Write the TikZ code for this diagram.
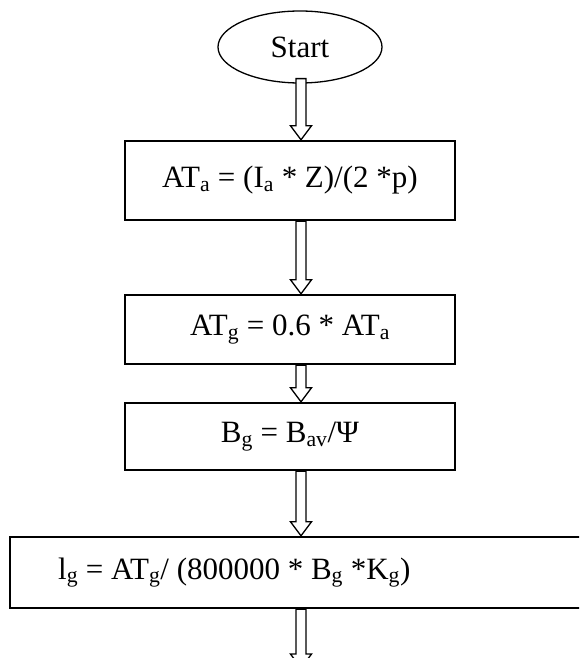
\documentclass[tikz,border=0pt]{standalone}
\usepackage{fontspec}
\setmainfont{Liberation Serif}
\usetikzlibrary{shapes.geometric, calc}

\tikzset{
  box/.style={draw, line width=2.4pt, minimum width=330pt, fill=white, inner sep=0pt},
  startnode/.style={ellipse, draw, line width=1.3pt, minimum width=164pt, minimum height=72pt},
  blockarrow/.style={draw, fill=white, line width=1.3pt, to path={
    let \p1=(\tikztostart), \p2=(\tikztotarget) in
    (\x1-5pt,\y1) -- (\x1-5pt,\y2+14pt) -- (\x1-10.5pt,\y2+14pt) -- (\x1,\y2)
    -- (\x1+10.5pt,\y2+14pt) -- (\x1+5pt,\y2+14pt) -- (\x1+5pt,\y1) -- cycle}},
}

\begin{document}
\begin{tikzpicture}[x=1pt, y=-1pt, font=\fontsize{31}{37}\selectfont]
    \useasboundingbox (0,0) rectangle (579,658);
    \clip (0,0) rectangle (579,658);

    % Start and steps
    \node[startnode] (start) at (300,47) {Start};
    \node[box, minimum height=79pt] (ata) at (290,180.5) {AT\textsubscript{a} = (I\textsubscript{a} * Z)/(2 *p)};
    \node[box, minimum height=69pt] (atg) at (290,329.5) {AT\textsubscript{g} = 0.6 * AT\textsubscript{a}};
    \node[box, minimum height=67pt] (bg) at (290,436.5) {B\textsubscript{g} = B\textsubscript{av}/Ψ};
    \node[box, anchor=west, minimum height=71pt, text width=504pt, inner xsep=48pt, align=flush left] (lg) at (9,572.5)
        {l\textsubscript{g} = AT\textsubscript{g}/ (800000 * B\textsubscript{g} *K\textsubscript{g})};

    % Arrow column and loose end
    \coordinate (col) at (301,0);
    \coordinate (out) at (301,668);

    % Block arrows
    \draw[blockarrow] ($(start.south -| col)+(0,-5)$) to (ata.north -| col);
    \draw[blockarrow] (ata.south -| col) to (atg.north -| col);
    \draw[blockarrow] (atg.south -| col) to (bg.north -| col);
    \draw[blockarrow] (bg.south -| col) to (lg.north -| col);
    \draw[blockarrow] (lg.south -| col) to (out);
\end{tikzpicture}
\end{document}
